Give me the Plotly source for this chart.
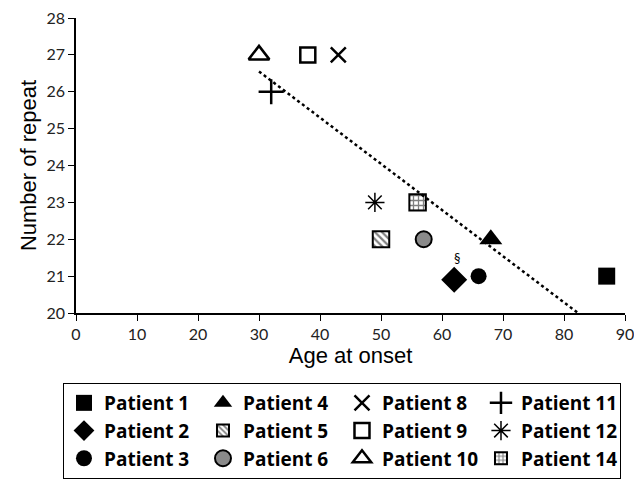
import plotly.graph_objects as go

# ---- data ----
patients = ["Patient 1", "Patient 2", "Patient 3", "Patient 4", "Patient 5", "Patient 6",
            "Patient 8", "Patient 9", "Patient 10", "Patient 11", "Patient 12", "Patient 14"]
age_at_onset = [87, 62, 66, 68, 50, 57, 43, 38, 30, 32, 49, 56]
num_repeat = [21, 20.9, 21, 22, 22, 22, 27, 27, 27, 26, 23, 23]

trend_x = [30, 82.3]
trend_y = [26.55, 20]

note_x = [62.5]
note_y = [21.45]
note_text = ["§"]

x_ticks = [0, 10, 20, 30, 40, 50, 60, 70, 80, 90]
y_ticks = [20, 21, 22, 23, 24, 25, 26, 27, 28]

# legend order (row-wise in a 4-column legend)
legend_order = ["Patient 1", "Patient 4", "Patient 8", "Patient 11",
                "Patient 2", "Patient 5", "Patient 9", "Patient 12",
                "Patient 3", "Patient 6", "Patient 10", "Patient 14"]

# ---- styles ----
styles = {
    "Patient 1": dict(kind="scatter", symbol="square", size=17, color="black", lw=0),
    "Patient 2": dict(kind="scatter", symbol="diamond", size=20, color="black", lw=0),
    "Patient 3": dict(kind="scatter", symbol="circle", size=16, color="black", lw=0),
    "Patient 4": dict(kind="scatter", symbol="triangle-up", size=20, color="black", lw=0),
    "Patient 5": dict(kind="bar", pattern="\\"),
    "Patient 6": dict(kind="scatter", symbol="circle", size=16, color="#8a8a8a", lw=2),
    "Patient 8": dict(kind="scatter", symbol="x-thin-open", size=15, color="black", lw=2.5),
    "Patient 9": dict(kind="scatter", symbol="square-open", size=15, color="black", lw=2.5),
    "Patient 10": dict(kind="scatter", symbol="triangle-up-open", size=18, color="black", lw=2.5),
    "Patient 11": dict(kind="scatter", symbol="cross-thin-open", size=18, color="black", lw=2.5),
    "Patient 12": dict(kind="scatter", symbol="asterisk-open", size=16, color="black", lw=1.5),
    "Patient 14": dict(kind="bar", pattern="+"),
}

BAR_W = 2.7     # in years (~16 px)
BAR_H = 0.44    # in repeats (~16 px)

fig = go.Figure()

fig.add_trace(go.Scatter(x=trend_x, y=trend_y, mode="lines",
                         line=dict(color="black", width=2.5, dash="dot"),
                         showlegend=False, hoverinfo="skip"))

for name in legend_order:
    i = patients.index(name)
    st = styles[name]
    if st["kind"] == "scatter":
        fig.add_trace(go.Scatter(
            x=[age_at_onset[i]], y=[num_repeat[i]], mode="markers", name=name,
            marker=dict(symbol=st["symbol"], size=st["size"], color=st["color"],
                        line=dict(color="black", width=st["lw"]))))
    else:
        fig.add_trace(go.Bar(
            x=[age_at_onset[i]], y=[BAR_H], base=[num_repeat[i] - BAR_H / 2],
            width=[BAR_W], name=name,
            marker=dict(color="white", line=dict(color="black", width=2),
                        pattern=dict(shape=st["pattern"], fgcolor="black", bgcolor="white",
                                     size=5, solidity=0.45))))

fig.add_trace(go.Scatter(x=note_x, y=note_y, mode="text", text=note_text,
                         textfont=dict(family="Lato", size=13, color="black"),
                         showlegend=False, hoverinfo="skip"))

# page body has an 8px margin, so the figure is drawn 8px smaller and offset
fig.update_layout(
    width=634, height=471,
    margin=dict(l=68, r=17, t=10, b=166, autoexpand=False),
    paper_bgcolor="white", plot_bgcolor="white",
    barmode="overlay",
    showlegend=True,
    legend=dict(orientation="h",
                x=-0.0237, xanchor="left", y=-0.2373, yanchor="top",
                bordercolor="black", borderwidth=1,
                entrywidth=94, entrywidthmode="pixels",
                font=dict(family="Open Sans", size=19, color="black", weight="bold"),
                itemwidth=30, traceorder="normal"),
    xaxis=dict(range=[0, 90], tickvals=x_ticks, showgrid=False, zeroline=False,
               showline=True, linecolor="black", linewidth=1.5, automargin=False,
               ticks="outside", ticklen=6, tickcolor="black", ticklabeloverflow="allow",
               tickfont=dict(family="Lato", size=16, color="#222"),
               title=dict(text="Age at onset", font=dict(family="Liberation Sans", size=22, color="black"),
                          standoff=4)),
    yaxis=dict(range=[20, 28], tickvals=y_ticks, showgrid=False, zeroline=False,
               showline=True, linecolor="black", linewidth=1.5, automargin=False,
               ticks="outside", ticklen=6, tickcolor="black", ticklabeloverflow="allow",
               tickfont=dict(family="Lato", size=16, color="#222"),
               title=dict(text="Number of repeat", font=dict(family="Liberation Sans", size=22, color="black"),
                          standoff=4)),
)

fig.write_html("out.html")
